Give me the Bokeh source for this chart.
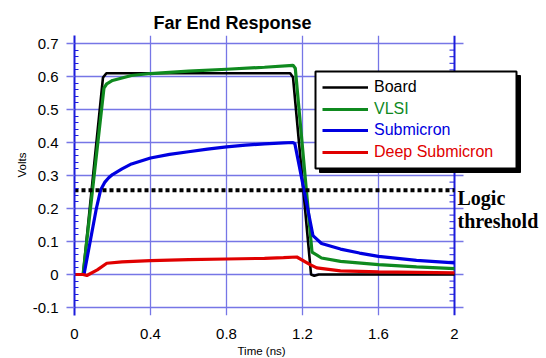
from bokeh.plotting import figure
from bokeh.models import Range1d, FixedTicker, Label, Legend, LegendItem, Span, Title
from bokeh.embed import file_html
from bokeh.resources import INLINE

# ---------------- data ----------------
board_t = [0.0, 0.045, 0.15, 0.168, 1.135, 1.15, 1.245, 1.262, 1.285, 2.0]
board_v = [0.0, 0.0, 0.597, 0.61, 0.61, 0.598, 0.0, -0.004, 0.0, 0.0]

vlsi_t = [0.0, 0.045, 0.155, 0.17, 0.2, 0.3, 0.4, 0.6, 0.8, 1.0, 1.15, 1.162,
          1.25, 1.3, 1.4, 1.6, 1.8, 2.0]
vlsi_v = [0.0, 0.0, 0.565, 0.578, 0.588, 0.603, 0.609, 0.616, 0.622, 0.628,
          0.634, 0.625, 0.068, 0.05, 0.04, 0.03, 0.023, 0.018]

sub_t = [0.0, 0.05, 0.115, 0.137, 0.16, 0.18, 0.2, 0.25, 0.3, 0.4, 0.5, 0.6, 0.7,
         0.8, 0.9, 1.0, 1.1, 1.15, 1.16, 1.255, 1.3, 1.4, 1.5, 1.6, 1.8, 2.0]
sub_v = [0.0, 0.0, 0.2, 0.255, 0.28, 0.293, 0.303, 0.32, 0.335, 0.353, 0.364,
         0.372, 0.38, 0.387, 0.392, 0.396, 0.399, 0.4, 0.396, 0.118, 0.094,
         0.077, 0.065, 0.055, 0.043, 0.035]

deep_t = [0.0, 0.045, 0.065, 0.12, 0.17, 0.25, 0.4, 0.6, 0.8, 1.0, 1.1, 1.17,
          1.24, 1.275, 1.4, 1.6, 2.0]
deep_v = [0.0, 0.0, -0.003, 0.014, 0.034, 0.038, 0.042, 0.045, 0.047, 0.049,
          0.051, 0.053, 0.03, 0.02, 0.011, 0.008, 0.005]

series_names = ["Board", "VLSI", "Submicron", "Deep Submicron"]
logic_threshold = 0.255

x_ticks = [0, 0.4, 0.8, 1.2, 1.6, 2]
x_tick_labels = ["0", "0.4", "0.8", "1.2", "1.6", "2"]
y_ticks = [-0.1, 0.0, 0.1, 0.2, 0.3, 0.4, 0.5, 0.6, 0.7]
y_tick_labels = ["-0.1", "0", "0.1", "0.2", "0.3", "0.4", "0.5", "0.6", "0.7"]
y_minor = [round(-0.1 + 0.02 * i, 2) for i in range(41) if i % 5 != 0]

# ---------------- layout / styles ----------------
W, H = 546, 358
LEFT, RIGHT, TOP, BOTTOM = 74, 0, 35, 43
PX_PER_X = 190.0          # pixels per ns
PX_PER_Y = 330.0          # pixels per volt
Y0_PX = 274.0             # pixel row of 0 V

def px_x(px):
    return (px - LEFT) / PX_PER_X

def px_y(py):
    return (Y0_PX - py) / PX_PER_Y

GRID_BLUE = "#7676e6"
AXIS_BLUE = "#1c1cdc"
GREEN = "#0f8a1f"
BLUE = "#0000e0"
RED = "#e00000"
FONT = "Liberation Sans"

p = figure(width=W, height=H,
           x_range=Range1d(px_x(LEFT), px_x(W - RIGHT)),
           y_range=Range1d(px_y(H - BOTTOM), px_y(TOP)),
           output_backend="svg", toolbar_location=None,
           min_border_left=LEFT, min_border_right=RIGHT,
           min_border_top=TOP, min_border_bottom=BOTTOM)
p.outline_line_color = None
p.background_fill_color = "white"

# title (in the top panel, so it is not clipped)
p.title = Title(text="Far End Response", align="left", offset=153 - LEFT,
                text_font=FONT, text_font_size="18px", text_font_style="bold",
                text_color="black", standoff=6)

# y axis (at x = 0)
ya = p.yaxis[0]
ya.ticker = FixedTicker(ticks=y_ticks, minor_ticks=y_minor)
ya.major_label_overrides = {t: s for t, s in zip(y_ticks, y_tick_labels)}
ya.axis_line_color = AXIS_BLUE
ya.axis_line_width = 2
ya.major_tick_in = 0
ya.major_tick_out = 8
ya.major_tick_line_color = GRID_BLUE
ya.major_tick_line_width = 1.3
ya.minor_tick_in = 4
ya.minor_tick_out = 0
ya.minor_tick_line_color = AXIS_BLUE
ya.minor_tick_line_width = 1
ya.major_label_standoff = 8
ya.major_label_text_font = FONT
ya.major_label_text_font_size = "15px"
ya.major_label_text_color = "black"

# x axis
xa = p.xaxis[0]
xa.ticker = FixedTicker(ticks=x_ticks, minor_ticks=[])
xa.major_label_overrides = {t: s for t, s in zip(x_ticks, x_tick_labels)}
xa.axis_line_color = None
xa.major_tick_line_color = None
xa.minor_tick_line_color = None
xa.major_label_standoff = 7
xa.major_label_text_font = FONT
xa.major_label_text_font_size = "15px"
xa.major_label_text_color = "black"

# axis titles as side-panel titles
p.add_layout(Title(text="Volts", align="left", offset=315 - 177, text_font=FONT,
                   text_font_size="11.5px", text_font_style="normal",
                   text_color="black", standoff=4), "left")
p.add_layout(Title(text="Time (ns)", align="left", offset=237 - LEFT, text_font=FONT,
                   text_font_size="11.5px", text_font_style="normal",
                   text_color="black", standoff=2), "below")

# grids
p.xgrid.ticker = FixedTicker(ticks=x_ticks[1:-1])
p.xgrid.grid_line_color = GRID_BLUE
p.xgrid.grid_line_width = 1.3
p.ygrid.ticker = FixedTicker(ticks=y_ticks)
p.ygrid.grid_line_color = GRID_BLUE
p.ygrid.grid_line_width = 1.3
p.ygrid.cross_bounds = (0, px_x(463))

# right axis line at x = 2
p.add_layout(Span(location=x_ticks[-1], dimension="height", line_color=AXIS_BLUE,
                  line_width=2, level="underlay"))
p.segment(x0=[x_ticks[-1] - 5 / PX_PER_X] * len(y_minor), x1=[x_ticks[-1]] * len(y_minor),
          y0=y_minor, y1=y_minor, line_color=AXIS_BLUE, line_width=1)

# data lines
r_board = p.line(board_t, board_v, line_color="black", line_width=2.6)
r_vlsi = p.line(vlsi_t, vlsi_v, line_color=GREEN, line_width=3.2)
r_sub = p.line(sub_t, sub_v, line_color=BLUE, line_width=3.2)
r_deep = p.line(deep_t, deep_v, line_color=RED, line_width=3.2)

# logic threshold
p.segment(x0=[x_ticks[0]], x1=[x_ticks[-1]], y0=[logic_threshold], y1=[logic_threshold],
          line_color="black", line_width=4, line_dash="4 3")

# legend box with shadow
bx0, bx1, by0, by1 = 315, 516, 71, 168
p.quad(left=[px_x(bx0 + 4)], right=[px_x(bx1 + 4)], top=[px_y(by0 + 4)], bottom=[px_y(by1 + 4)],
       fill_color="black", line_color="black")
p.quad(left=[px_x(bx0)], right=[px_x(bx1)], top=[px_y(by0)], bottom=[px_y(by1)],
       fill_color="white", line_color="black", line_width=2)

row_centers = [87, 108.5, 130, 151.5]
for name, r, col, cy in zip(series_names, [r_board, r_vlsi, r_sub, r_deep],
                            ["black", GREEN, BLUE, RED], row_centers):
    lg = Legend(items=[LegendItem(label=name, renderers=[r])],
                location=(322 - LEFT, (H - BOTTOM) - (cy + 10)),
                border_line_color=None, background_fill_alpha=0,
                padding=0, margin=0, glyph_width=46, glyph_height=20,
                label_height=20, label_standoff=6, label_text_color=col,
                label_text_font=FONT, label_text_font_size="16px")
    p.add_layout(lg)

# threshold text
p.add_layout(Label(x=px_x(457), y=px_y(197), text="Logic", text_align="left",
                   text_baseline="alphabetic", text_font="Liberation Serif",
                   text_font_size="20px", text_font_style="bold", text_color="black"))
p.add_layout(Label(x=px_x(457), y=px_y(220), text="threshold", text_align="left",
                   text_baseline="alphabetic", text_font="Liberation Serif",
                   text_font_size="20px", text_font_style="bold", text_color="black"))

open("out.html", "w").write(file_html(p, INLINE))
